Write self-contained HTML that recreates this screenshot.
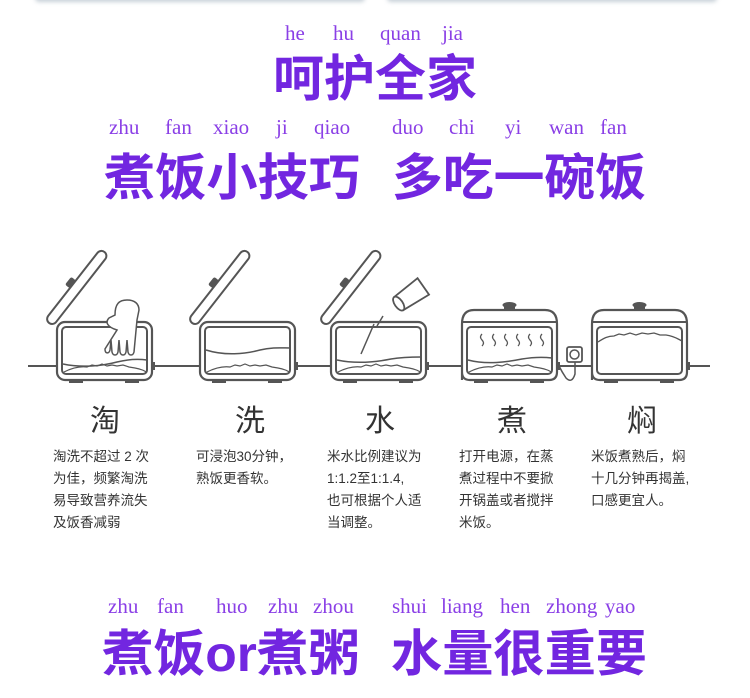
<!DOCTYPE html>
<html><head><meta charset="utf-8"><style>
html,body{margin:0;padding:0;background:#fff;}
svg{display:block;}
.py{font-family:"Liberation Serif",serif;font-size:21px;fill:#8a3fe6;}
.tt{font-family:"Liberation Sans","Noto Sans CJK SC",sans-serif;font-weight:bold;font-size:50px;fill:#7226e0;}
.lb{font-family:"Liberation Sans","Noto Sans CJK SC",sans-serif;font-size:30px;fill:#333;}
.tx{font-family:"Liberation Sans","Noto Sans CJK SC",sans-serif;font-size:13.5px;fill:#333;}
</style></head><body>
<svg width="750" height="698" viewBox="0 0 750 698" xmlns="http://www.w3.org/2000/svg">
<defs>
<filter id="sh" x="-5%" y="-50%" width="110%" height="300%"><feGaussianBlur stdDeviation="2"/></filter>
<g id="body">
  <rect x="0" y="0" width="95" height="58" rx="8" fill="#fff" stroke="#555" stroke-width="2.2"/>
  <rect x="5" y="5" width="85" height="47" rx="4" fill="none" stroke="#555" stroke-width="2"/>
  <rect x="12" y="58" width="14" height="3" fill="#555"/>
  <rect x="68" y="58" width="14" height="3" fill="#555"/>
  <rect x="95" y="40" width="3" height="8" fill="#555"/>
  <path d="M7,50 C15,46 22,44 30,45 L35,43 40,44 45,42 50,44 55,43 60,44 66,43 72,45 78,46 C84,47 88,49 89,50" fill="none" stroke="#555" stroke-width="1.2"/>
</g>
<g id="lid">
  <g transform="translate(-4,4) rotate(-52)">
    <rect x="0" y="-10" width="90" height="10" rx="5" fill="#fff" stroke="#555" stroke-width="2"/>
    <rect x="40" y="-16" width="10" height="6" rx="2" fill="#555"/>
  </g>
</g>
<g id="closed">
  <path d="M0,58 L0,2 Q0,-12 12,-12 L83,-12 Q95,-12 95,2 L95,50 Q95,58 87,58 L8,58 Q0,58 0,50Z" fill="#fff" stroke="#555" stroke-width="2.2"/>
  <line x1="0" y1="0" x2="95" y2="0" stroke="#555" stroke-width="2"/>
  <rect x="5" y="5" width="85" height="47" rx="4" fill="none" stroke="#555" stroke-width="2"/>
  <rect x="42" y="-16" width="11" height="4" fill="#555"/>
  <ellipse cx="47.5" cy="-17" rx="7" ry="3" fill="#555"/>
  <rect x="12" y="58" width="14" height="3" fill="#555"/>
  <rect x="68" y="58" width="14" height="3" fill="#555"/>
  <rect x="95" y="40" width="3" height="8" fill="#555"/>
</g>
</defs>

<rect x="35" y="-12" width="330" height="14" rx="4" fill="#c8d0d8" filter="url(#sh)"/>
<rect x="35" y="-14" width="330" height="14" rx="4" fill="#fff"/>
<rect x="387" y="-12" width="330" height="14" rx="4" fill="#c8d0d8" filter="url(#sh)"/>
<rect x="387" y="-14" width="330" height="14" rx="4" fill="#fff"/>

<text class="py" x="285" y="40">he</text>
<text class="py" x="333" y="40">hu</text>
<text class="py" x="380" y="40">quan</text>
<text class="py" x="442" y="40">jia</text>
<text class="tt" x="273" y="96" textLength="204" lengthAdjust="spacingAndGlyphs">呵护全家</text>

<text class="py" x="109" y="134">zhu</text>
<text class="py" x="165" y="134">fan</text>
<text class="py" x="213" y="134">xiao</text>
<text class="py" x="276" y="134">ji</text>
<text class="py" x="314" y="134">qiao</text>
<text class="py" x="392" y="134">duo</text>
<text class="py" x="449" y="134">chi</text>
<text class="py" x="505" y="134">yi</text>
<text class="py" x="549" y="134">wan</text>
<text class="py" x="600" y="134">fan</text>
<text class="tt" x="104" y="195" textLength="256" lengthAdjust="spacingAndGlyphs">煮饭小技巧</text>
<text class="tt" x="392" y="195" textLength="254" lengthAdjust="spacingAndGlyphs">多吃一碗饭</text>

<line x1="28" y1="366" x2="710" y2="366" stroke="#555" stroke-width="2"/>

<g transform="translate(57,322)">
  <use href="#lid"/>
  <use href="#body"/>
  <path d="M6,42 C25,46 45,44 60,40 C72,37 82,37 90,38" fill="none" stroke="#555" stroke-width="1.5"/>
  <path d="M60,8 C50,5 48,0 52,-4 L58,-7 C58,-18 62,-22 70,-22 C78,-22 82,-18 82,-12 L80,-2 L77,30 C76,34 72,34 71,30 L70,18 L69,30 C68,34 64,34 63,30 L62,18 L61,30 C60,34 56,34 55,30 L54,18 L53,28 C52,32 48,32 48,27 Z" fill="#fff" stroke="#555" stroke-width="1.5"/>
</g>
<g transform="translate(200,322)">
  <use href="#lid"/>
  <use href="#body"/>
  <path d="M6,28 C25,34 45,32 60,28 C72,25 82,26 90,26" fill="none" stroke="#555" stroke-width="1.5"/>
</g>
<g transform="translate(331,322)">
  <use href="#lid"/>
  <use href="#body"/>
  <path d="M6,38 C25,42 45,40 60,37 C72,35 82,35 90,35" fill="none" stroke="#555" stroke-width="1.5"/>
  <path d="M43,2 L30,32" fill="none" stroke="#555" stroke-width="1.5"/>
  <path d="M52,-6 L46,4" fill="none" stroke="#555" stroke-width="1.5"/>
  <g transform="translate(80,-27) rotate(-35)">
    <path d="M-15,-8 L15,-10 L15,10 L-15,8 Z" fill="#fff" stroke="#555" stroke-width="1.8"/>
    <ellipse cx="-15" cy="0" rx="4" ry="8" fill="#fff" stroke="#555" stroke-width="1.8"/>
  </g>
</g>
<g transform="translate(462,322)">
  <use href="#closed"/>
  <path d="M6,38 C25,43 45,40 60,37 C72,35 82,35 90,36" fill="none" stroke="#555" stroke-width="1.5"/>
  <path d="M7,50 C15,46 22,44 30,45 L35,43 40,44 45,42 50,44 55,43 60,44 66,43 72,45 78,46 C84,47 88,49 89,50" fill="none" stroke="#555" stroke-width="1.2"/>
  <g fill="none" stroke="#555" stroke-width="1.3">
    <path d="M20,12 q-3,3 0,6 q3,3 0,6"/>
    <path d="M32,12 q-3,3 0,6 q3,3 0,6"/>
    <path d="M44,12 q-3,3 0,6 q3,3 0,6"/>
    <path d="M56,12 q-3,3 0,6 q3,3 0,6"/>
    <path d="M68,12 q-3,3 0,6 q3,3 0,6"/>
    <path d="M80,12 q-3,3 0,6 q3,3 0,6"/>
  </g>
  <path d="M97,44 Q100,50 104,56 Q110,62 113,52 L113,40" fill="none" stroke="#555" stroke-width="1.5"/>
</g>
<rect x="567" y="347" width="15" height="15" rx="2" fill="#fff" stroke="#555" stroke-width="1.8"/>
<circle cx="574.5" cy="354.5" r="4.5" fill="none" stroke="#555" stroke-width="1.5"/>
<g transform="translate(592,322)">
  <use href="#closed"/>
  <path d="M6,20 C12,16 16,14 22,14 L27,12 32,13 38,11 44,13 50,11 56,12 62,11 68,13 74,13 C82,14 86,17 90,19" fill="none" stroke="#555" stroke-width="1.3"/>
</g>

<text class="lb" x="105" y="431" text-anchor="middle">淘</text>
<text class="lb" x="250" y="431" text-anchor="middle">洗</text>
<text class="lb" x="380" y="431" text-anchor="middle">水</text>
<text class="lb" x="512" y="431" text-anchor="middle">煮</text>
<text class="lb" x="642" y="431" text-anchor="middle">焖</text>

<text class="tx" x="53" y="461">淘洗不超过 2 次</text>
<text class="tx" x="53" y="483">为佳，频繁淘洗</text>
<text class="tx" x="53" y="505">易导致营养流失</text>
<text class="tx" x="53" y="527">及饭香减弱</text>

<text class="tx" x="196" y="461">可浸泡30分钟，</text>
<text class="tx" x="196" y="483">熟饭更香软。</text>

<text class="tx" x="327" y="461">米水比例建议为</text>
<text class="tx" x="327" y="483">1:1.2至1:1.4,</text>
<text class="tx" x="327" y="505">也可根据个人适</text>
<text class="tx" x="327" y="527">当调整。</text>

<text class="tx" x="459" y="461">打开电源，在蒸</text>
<text class="tx" x="459" y="483">煮过程中不要掀</text>
<text class="tx" x="459" y="505">开锅盖或者搅拌</text>
<text class="tx" x="459" y="527">米饭。</text>

<text class="tx" x="591" y="461">米饭煮熟后，焖</text>
<text class="tx" x="591" y="483">十几分钟再揭盖,</text>
<text class="tx" x="591" y="505">口感更宜人。</text>

<text class="py" x="108" y="613">zhu</text>
<text class="py" x="157" y="613">fan</text>
<text class="py" x="216" y="613">huo</text>
<text class="py" x="268" y="613">zhu</text>
<text class="py" x="313" y="613">zhou</text>
<text class="py" x="392" y="613">shui</text>
<text class="py" x="441" y="613">liang</text>
<text class="py" x="500" y="613">hen</text>
<text class="py" x="546" y="613">zhong</text>
<text class="py" x="605" y="613">yao</text>
<text class="tt" x="102" y="671" textLength="258" lengthAdjust="spacingAndGlyphs">煮饭or煮粥</text>
<text class="tt" x="391" y="671" textLength="256" lengthAdjust="spacingAndGlyphs">水量很重要</text>
</svg>
</body></html>
